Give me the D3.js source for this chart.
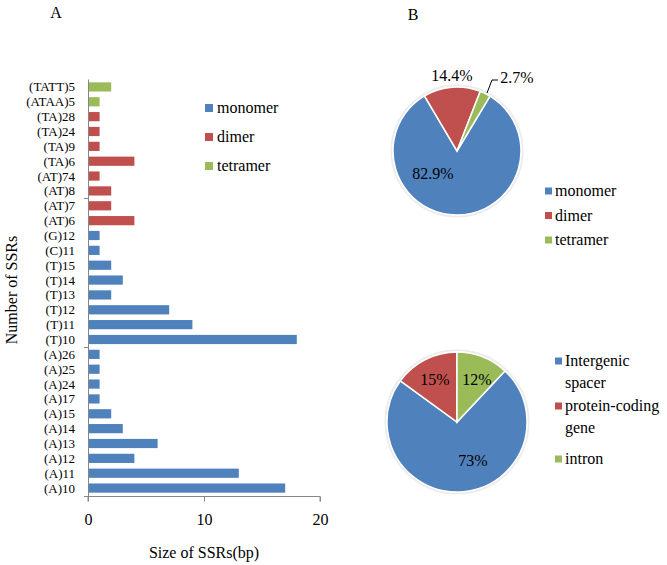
<!DOCTYPE html>
<html>
<head>
<meta charset="UTF-8">
<title>SSR chart</title>
<script src="https://d3js.org/d3.v7.min.js"></script>
<style>
  body { margin: 0; background: #fff; }
  svg text { font-family: "Liberation Serif", "Tinos", "Times New Roman", Times, "DejaVu Serif", serif; fill: #000; }
</style>
</head>
<body>
<div id="chart"></div>
<script>
// bar chart data (top row of the figure first)
var ssrNames = ["(TATT)5","(ATAA)5","(TA)28","(TA)24","(TA)9","(TA)6","(AT)74","(AT)8","(AT)7","(AT)6",
  "(G)12","(C)11","(T)15","(T)14","(T)13","(T)12","(T)11","(T)10",
  "(A)26","(A)25","(A)24","(A)17","(A)15","(A)14","(A)13","(A)12","(A)11","(A)10"];
var ssrCounts = [2,1,1,1,1,4,1,2,2,4, 1,1,2,3,2,7,9,18, 1,1,1,1,2,3,6,4,13,17];
var ssrTypes = ["tetramer","tetramer","dimer","dimer","dimer","dimer","dimer","dimer","dimer","dimer",
  "monomer","monomer","monomer","monomer","monomer","monomer","monomer","monomer",
  "monomer","monomer","monomer","monomer","monomer","monomer","monomer","monomer","monomer","monomer"];
var xTicks = [0, 10, 20];

// pie B
var typeNames = ["monomer", "dimer", "tetramer"];
var typeShares = [82.9, 14.4, 2.7];
// pie C
var regionNames = ["Intergenic spacer", "protein-coding gene", "intron"];
var regionShares = [73, 15, 12];

var colors = ["#4F81BD", "#C0504D", "#9BBB59"];
var typeColor = d3.scaleOrdinal().domain(typeNames).range(colors);
var serif = "'Liberation Serif', Tinos, 'Times New Roman', Times, 'DejaVu Serif', serif";

var svg = d3.select("#chart").append("svg").attr("width", 667).attr("height", 565);

// ---------- panel A: bar chart ----------
var x = d3.scaleLinear().domain([0, 20]).range([88, 320]);
var y = d3.scaleBand().domain(ssrNames).range([79.5, 495.5]).paddingInner(0.38).paddingOuter(0.19);

svg.append("g").selectAll("rect")
    .data(ssrNames)
    .enter().append("rect")
    .attr("x", x(0))
    .attr("y", function (d) { return y(d); })
    .attr("width", function (d, i) { return x(ssrCounts[i]) - x(0); })
    .attr("height", y.bandwidth())
    .attr("fill", function (d, i) { return typeColor(ssrTypes[i]); });

// y axis line + tick marks every 10 categories from the bottom
var axisColor = "#868686";
svg.append("line").attr("x1", 88.5).attr("x2", 88.5).attr("y1", 79.5).attr("y2", 496)
    .attr("stroke", axisColor);
var step = y.step();
[0, 10, 20].forEach(function (k) {
  var yy = Math.round(495.5 - k * step) + 0.5;
  svg.append("line").attr("x1", 84).attr("x2", 88.5).attr("y1", yy).attr("y2", yy).attr("stroke", axisColor);
});
svg.append("g").selectAll("text")
    .data(ssrNames)
    .enter().append("text")
    .attr("x", 75)
    .attr("y", function (d) { return y(d) + y.bandwidth() / 2; })
    .attr("dy", "0.35em")
    .attr("text-anchor", "end")
    .style("font-size", "13px")
    .text(function (d) { return d; });

// x axis
var xAxis = svg.append("g").attr("transform", "translate(0,496.5)")
    .call(d3.axisBottom(x).tickValues(xTicks).tickSize(5).tickPadding(12));
xAxis.select(".domain").attr("stroke", axisColor).attr("d", "M88,5V0H320V5");
xAxis.selectAll(".tick line").attr("stroke", axisColor);
xAxis.selectAll(".tick text").style("font-size", "16px")
    .style("font-family", serif).attr("fill", "#000");

svg.append("text").attr("x", 204).attr("y", 558).attr("text-anchor", "middle")
    .style("font-size", "16px").text("Size of SSRs(bp)");
svg.append("text").attr("transform", "translate(17,290) rotate(-90)").attr("text-anchor", "middle")
    .style("font-size", "16px").text("Number of SSRs");
svg.append("text").attr("x", 56).attr("y", 18).attr("text-anchor", "middle")
    .style("font-size", "16px").text("A");

// legend A
var legA = svg.append("g").selectAll("g").data(typeNames).enter().append("g")
    .attr("transform", function (d, i) { return "translate(205," + (108 + i * 29) + ")"; });
legA.append("rect").attr("x", 0).attr("y", -4).attr("width", 8).attr("height", 8)
    .attr("fill", function (d) { return typeColor(d); });
legA.append("text").attr("x", 12).attr("dy", "0.33em").style("font-size", "16px").text(function (d) { return d; });

// ---------- pies ----------
function drawPie(cx, cy, r, names, shares, startDeg) {
  var pie = d3.pie().sort(null)
      .startAngle(startDeg * Math.PI / 180)
      .endAngle(startDeg * Math.PI / 180 + 2 * Math.PI);
  var arcs = pie(shares);
  var arc = d3.arc().innerRadius(0).outerRadius(r);
  var g = svg.append("g").attr("transform", "translate(" + cx + "," + cy + ")");
  g.append("circle").attr("r", r + 1.5).attr("fill", "none").attr("stroke", "#ececec").attr("stroke-width", 2);
  g.selectAll("path").data(arcs).enter().append("path")
      .attr("d", arc)
      .attr("fill", function (d, i) { return colors[i]; })
      .attr("stroke", "#fff").attr("stroke-width", 1.5);
  return g;
}

// panel B
svg.append("text").attr("x", 413).attr("y", 20).attr("text-anchor", "middle")
    .style("font-size", "16px").text("B");
var gB = drawPie(457, 151, 64, typeNames, typeShares, 31);
var labB = [[-24, 22], [-5, -76], [60, -74]];
gB.selectAll("text.lab").data(typeShares).enter().append("text")
    .attr("x", function (d, i) { return labB[i][0]; })
    .attr("y", function (d, i) { return labB[i][1]; })
    .attr("dy", "0.35em").attr("text-anchor", "middle")
    .style("font-size", "16px")
    .text(function (d) { return d + "%"; });
gB.append("path").attr("d", "M30,-58L35,-71H41").attr("fill", "none").attr("stroke", "#000").attr("stroke-width", 1);

var legB = svg.append("g").selectAll("g").data(typeNames).enter().append("g")
    .attr("transform", function (d, i) { return "translate(545," + (191 + i * 24.5) + ")"; });
legB.append("rect").attr("x", 0).attr("y", -3.5).attr("width", 7).attr("height", 7)
    .attr("fill", function (d) { return typeColor(d); });
legB.append("text").attr("x", 10).attr("dy", "0.33em").style("font-size", "16px").text(function (d) { return d; });

// panel C
svg.append("text").attr("x", 412).attr("y", 389).attr("text-anchor", "middle")
    .style("font-size", "16px").text("C");
var gC = drawPie(457, 422, 70, regionNames, regionShares, 43.2);
var labC = [[16, 38], [-22, -43], [20, -43]];
gC.selectAll("text.lab").data(regionShares).enter().append("text")
    .attr("x", function (d, i) { return labC[i][0]; })
    .attr("y", function (d, i) { return labC[i][1]; })
    .attr("dy", "0.35em").attr("text-anchor", "middle")
    .style("font-size", "16px")
    .text(function (d) { return d + "%"; });

var legCy = [361, 406, 459];
var legC = svg.append("g").selectAll("g").data(regionNames).enter().append("g")
    .attr("transform", function (d, i) { return "translate(555," + legCy[i] + ")"; });
legC.append("rect").attr("x", 0).attr("y", -3.5).attr("width", 7).attr("height", 7)
    .attr("fill", function (d, i) { return colors[i]; });
legC.each(function (d) {
  var words = d.split(" ");
  var t = d3.select(this).append("text").attr("x", 10).attr("dy", "0.33em").style("font-size", "16px");
  t.append("tspan").attr("x", 10).text(words[0]);
  if (words.length > 1) {
    t.append("tspan").attr("x", 10).attr("dy", "1.35em").text(words[1]);
  }
});
</script>
</body>
</html>
